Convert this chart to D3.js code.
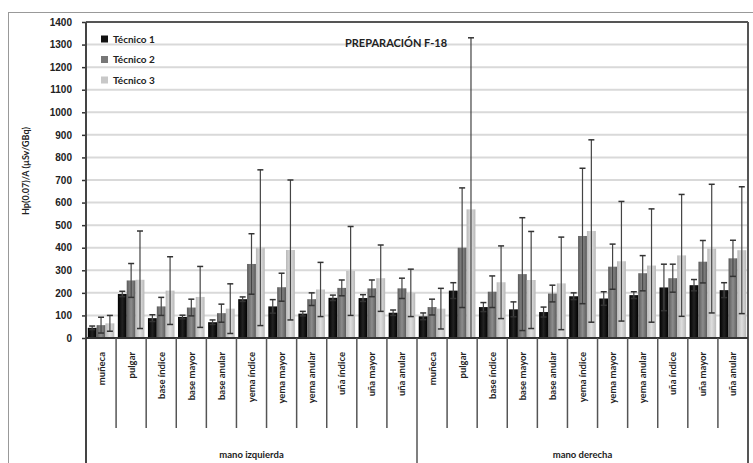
<!DOCTYPE html>
<html>
<head>
<meta charset="utf-8">
<script src="https://cdn.jsdelivr.net/npm/d3@7"></script>
<style>
  body { margin: 0; background: #fff; }
  svg { display: block; font-family: Lato, "Open Sans", sans-serif; font-weight: bold; }
</style>
</head>
<body>
<svg></svg>
<script>
// chart data
var categories = ["muñeca", "pulgar", "base índice", "base mayor", "base anular", "yema índice",
                  "yema mayor", "yema anular", "uña índice", "uña mayor", "uña anular"];
var hands = ["mano izquierda", "mano derecha"];
var seriesNames = ["Técnico 1", "Técnico 2", "Técnico 3"];
var yTicks = [0, 100, 200, 300, 400, 500, 600, 700, 800, 900, 1000, 1100, 1200, 1300, 1400];

// values: first 11 = mano izquierda, last 11 = mano derecha
var tec1    = [45, 195, 88, 93, 70, 172, 140, 108, 178, 177, 112,   96, 210, 137, 127, 115, 185, 175, 190, 224, 234, 212];
var tec1Err = [8, 12, 15, 8, 10, 10, 30, 10, 12, 15, 12,            15, 35, 20, 33, 22, 15, 30, 15, 103, 25, 33];
var tec2    = [57, 255, 140, 135, 110, 328, 225, 172, 222, 220, 220, 137, 400, 205, 283, 197, 452, 316, 287, 265, 338, 353];
var tec2Err = [35, 75, 40, 37, 40, 134, 62, 28, 35, 37, 45,         35, 265, 70, 250, 37, 300, 100, 78, 62, 94, 80];
var tec3    = [65, 258, 210, 182, 130, 400, 390, 215, 297, 265, 200, 130, 570, 247, 257, 242, 474, 340, 321, 366, 396, 389];
var tec3Err = [35, 216, 150, 135, 110, 345, 310, 120, 197, 147, 105, 90, 760, 161, 215, 205, 404, 265, 251, 270, 285, 281];

var width = 753, height = 463;
var plotLeft = 86, plotRight = 748, plotTop = 22, zeroY = 338;

var svg = d3.select('svg').attr('width', width).attr('height', height);

// outer frame
svg.append('rect')
   .attr('x', 8.5).attr('y', 12.5)
   .attr('width', 760).attr('height', 470)
   .attr('fill', 'none').attr('stroke', '#999').attr('stroke-width', 1);

// gradients for bars
var defs = svg.append('defs');
function grad(id, c1, c2) {
    var g = defs.append('linearGradient').attr('id', id)
        .attr('x1', '0%').attr('x2', '100%').attr('y1', '0%').attr('y2', '0%');
    g.append('stop').attr('offset', '0%').attr('stop-color', c1);
    g.append('stop').attr('offset', '50%').attr('stop-color', c2);
    g.append('stop').attr('offset', '100%').attr('stop-color', c1);
}
grad('g1', '#000', '#222');
grad('g2', '#5a5a5a', '#8c8c8c');
grad('g3', '#b8b8b8', '#dedede');
var fills = ['url(#g1)', 'url(#g2)', 'url(#g3)'];
var legendCols = ['#111', '#777', '#c8c8c8'];

// scales
var keys = d3.range(hands.length * categories.length);
var x = d3.scaleBand().domain(keys).range([plotLeft, plotRight]).padding(0);
var xSub = d3.scaleBand().domain([0, 1, 2]).range([0, x.bandwidth()])
             .paddingInner(0).paddingOuter(0.2);
var y = d3.scaleLinear().domain([0, 1400]).range([zeroY, plotTop]);

// gridlines
svg.append('g').selectAll('line').data(yTicks.slice(1)).join('line')
   .attr('x1', plotLeft).attr('x2', plotRight)
   .attr('y1', d => y(d)).attr('y2', d => y(d))
   .attr('stroke', '#d9d9d9').attr('stroke-width', 2);

// bars + error bars
var values = [tec1, tec2, tec3];
var errs = [tec1Err, tec2Err, tec3Err];
var bars = svg.append('g');
keys.forEach(function (k) {
    for (var s = 0; s < 3; s++) {
        var v = values[s][k], e = errs[s][k];
        var bx = x(k) + xSub(s), bw = xSub.bandwidth();
        bars.append('rect')
            .attr('x', bx).attr('y', y(v))
            .attr('width', bw).attr('height', zeroY - y(v))
            .attr('fill', fills[s]);
        var cx = bx + bw / 2;
        var lo = Math.max(0, v - e), hi = v + e;
        bars.append('line')
            .attr('x1', cx).attr('x2', cx).attr('y1', y(lo)).attr('y2', y(hi))
            .attr('stroke', '#444').attr('stroke-width', 1.2);
        [lo, hi].forEach(function (t) {
            bars.append('line')
                .attr('x1', cx - 3).attr('x2', cx + 3).attr('y1', y(t)).attr('y2', y(t))
                .attr('stroke', '#333').attr('stroke-width', 1.5);
        });
    }
});

// plot border top/right
svg.append('line').attr('x1', plotLeft).attr('x2', plotRight).attr('y1', plotTop).attr('y2', plotTop)
   .attr('stroke', '#555').attr('stroke-width', 2);
svg.append('line').attr('x1', plotRight).attr('x2', plotRight).attr('y1', plotTop).attr('y2', height)
   .attr('stroke', '#555').attr('stroke-width', 2);

// y axis
var yAxis = svg.append('g').attr('transform', 'translate(' + plotLeft + ',0)')
   .call(d3.axisLeft(y).tickValues(yTicks).tickFormat(d3.format('d')).tickSize(4).tickPadding(10));
yAxis.select('.domain').remove();
yAxis.selectAll('text').attr('font-size', 10).attr('font-weight', 'bold').attr('fill', '#222');
yAxis.selectAll('line').attr('stroke', '#333').attr('stroke-width', 1.5);
svg.append('line').attr('x1', plotLeft).attr('x2', plotLeft).attr('y1', plotTop).attr('y2', height)
   .attr('stroke', '#444').attr('stroke-width', 2);

// zero line
svg.append('line').attr('x1', plotLeft).attr('x2', plotRight).attr('y1', zeroY).attr('y2', zeroY)
   .attr('stroke', '#333').attr('stroke-width', 2);

// y label
svg.append('text')
   .attr('transform', 'translate(29,171) rotate(-90)')
   .attr('text-anchor', 'middle').attr('font-size', 9).attr('fill', '#222')
   .text('Hp(0.07)/A (µSv/GBq)');

// category separators and labels
var cat = svg.append('g');
keys.forEach(function (k) {
    var xs = x(k);
    if (k % categories.length !== 0) {
        cat.append('line').attr('x1', xs).attr('x2', xs).attr('y1', zeroY).attr('y2', 428)
           .attr('stroke', '#555').attr('stroke-width', 1.5);
    }
    cat.append('text')
       .attr('transform', 'translate(' + (xs + x.bandwidth() / 2 + 3.5) + ',352) rotate(-90)')
       .attr('text-anchor', 'end').attr('font-size', 9.5).attr('fill', '#222')
       .text(categories[k % categories.length]);
});

// hand separators and labels
hands.forEach(function (h, i) {
    var x0 = x(i * categories.length);
    var x1 = i === hands.length - 1 ? plotRight : x((i + 1) * categories.length);
    if (i > 0) {
        cat.append('line').attr('x1', x0).attr('x2', x0).attr('y1', zeroY).attr('y2', height)
           .attr('stroke', '#555').attr('stroke-width', 1.5);
    }
    cat.append('text')
       .attr('x', (x0 + x1) / 2).attr('y', 458)
       .attr('text-anchor', 'middle').attr('font-size', 9.5).attr('fill', '#222')
       .text(h);
});

// title
svg.append('text').attr('x', 396).attr('y', 47)
   .attr('text-anchor', 'middle').attr('font-size', 11).attr('fill', '#222')
   .text('PREPARACIÓN F-18');

// legend
var legend = svg.append('g');
seriesNames.forEach(function (n, i) {
    var ly = 39 + i * 20.5;
    legend.append('rect').attr('x', 101).attr('y', ly - 3.5).attr('width', 7).attr('height', 7)
          .attr('fill', legendCols[i]);
    legend.append('text').attr('x', 113).attr('y', ly + 3.5)
          .attr('font-size', 10).attr('fill', '#222').text(n);
});
</script>
</body>
</html>
